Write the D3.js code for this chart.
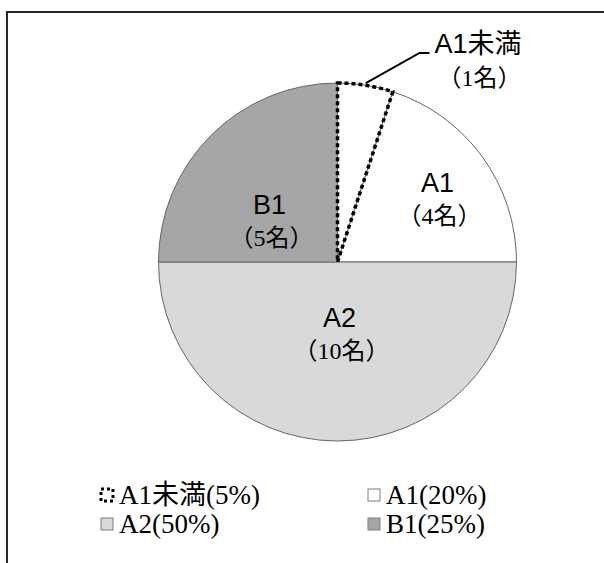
<!DOCTYPE html>
<html>
<head>
<meta charset="utf-8">
<script src="https://cdn.jsdelivr.net/npm/d3@7"></script>
<style>
  body { margin: 0; background: #fff; }
  svg { display: block; }
  .name { font-family: "Liberation Sans", Arial, "Noto Sans CJK JP", sans-serif; font-size: 27px; fill: #000; }
  .count { font-family: "Liberation Serif", "Noto Sans CJK JP", serif; font-size: 24px; fill: #000; }
  .legText { font-family: "Liberation Serif", "Noto Sans CJK JP", serif; font-size: 27px; fill: #000; }
</style>
</head>
<body>
<div id="chart"></div>
<script>
// data
var levels = ["A1未満", "A1", "A2", "B1"];
var counts = [1, 4, 10, 5];
var percents = [5, 20, 50, 25];
var fills = ["#ffffff", "#ffffff", "#d9d9d9", "#a6a6a6"];

var width = 604;
var height = 563;
var cx = 337.5;
var cy = 262;
var radius = 179;

var svg = d3.select("#chart")
    .append("svg")
    .attr("width", width)
    .attr("height", height);

// frame (runs off the right and bottom)
svg.append("rect")
    .attr("x", 7)
    .attr("y", 12)
    .attr("width", 700)
    .attr("height", 700)
    .attr("fill", "none")
    .attr("stroke", "#262626")
    .attr("stroke-width", 2);

var pie = d3.pie().sort(null).value(function(d) { return d; });
var arcs = pie(counts);
var arc = d3.arc().innerRadius(0).outerRadius(radius);

var g = svg.append("g").attr("transform", `translate(${cx},${cy})`);

g.selectAll("path.slice")
    .data(arcs)
    .enter()
    .append("path")
    .attr("class", "slice")
    .attr("d", arc)
    .attr("fill", function(d, i) { return fills[i]; })
    .attr("stroke", "#666")
    .attr("stroke-width", 1);

// dotted outline for the smallest slice
g.append("path")
    .attr("d", arc(arcs[0]))
    .attr("fill", "none")
    .attr("stroke", "#000")
    .attr("stroke-width", 3.5)
    .attr("stroke-dasharray", "4,3");

// labels inside slices (offsets from centre)
var labelPos = [null, [100, -70], [2, 65], [-68, -48]];
var countGap = 32;

arcs.forEach(function(d, i) {
  if (!labelPos[i]) return;
  var p = labelPos[i];
  g.append("text")
      .attr("class", "name")
      .attr("x", p[0])
      .attr("y", p[1])
      .attr("text-anchor", "middle")
      .text(levels[i]);
  g.append("text")
      .attr("class", "count")
      .attr("x", p[0] + 2)
      .attr("y", p[1] + countGap)
      .attr("text-anchor", "middle")
      .text("（" + counts[i] + "名）");
});

// callout for A1未満
var a0 = arcs[0];
var outer = d3.arc().innerRadius(radius + 2).outerRadius(radius + 2);
var pt = outer.centroid(a0);
g.append("polyline")
    .attr("points", [[pt[0], pt[1]], [82, -209], [92, -209]].map(function(p) { return p.join(","); }).join(" "))
    .attr("fill", "none")
    .attr("stroke", "#000")
    .attr("stroke-width", 2);
g.append("text")
    .attr("class", "name")
    .attr("x", 97)
    .attr("y", -209)
    .text(levels[0]);
g.append("text")
    .attr("class", "count")
    .attr("x", 142)
    .attr("y", -176)
    .attr("text-anchor", "middle")
    .text("（" + counts[0] + "名）");

// legend
var legX = [101, 368];
var legY = [495, 524];
var legOrder = [0, 1, 2, 3];
legOrder.forEach(function(i, k) {
  var x = legX[k % 2];
  var y = legY[Math.floor(k / 2)];
  var box = svg.append("rect")
      .attr("x", x)
      .attr("y", y - 6)
      .attr("width", 12)
      .attr("height", 12);
  if (i === 0) {
    box.attr("fill", "#fff")
       .attr("stroke", "#000")
       .attr("stroke-width", 3)
       .attr("stroke-dasharray", "3,3");
  } else {
    box.attr("fill", fills[i])
       .attr("stroke", "#7f7f7f")
       .attr("stroke-width", 1);
  }
  svg.append("text")
      .attr("class", "legText")
      .attr("x", x + 18)
      .attr("y", y + 9)
      .text(levels[i] + "(" + percents[i] + "%)");
});
</script>
</body>
</html>
